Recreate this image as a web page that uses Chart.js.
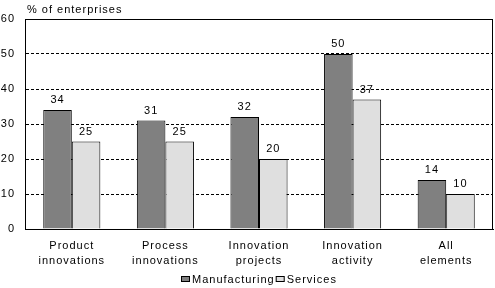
<!DOCTYPE html>
<html><head><meta charset="utf-8">
<script src="https://cdn.jsdelivr.net/npm/chart.js@4"></script>
<style>html,body{margin:0;padding:0;background:#fff}canvas{display:block}</style>
</head><body>
<canvas id="c" width="495" height="288"></canvas>
<script>
const categories = [['Product','innovations'],['Process','innovations'],['Innovation','projects'],['Innovation','activity'],['All','elements']];
const manufacturing = [34, 31, 32, 50, 14];
const services = [25, 25, 20, 37, 10];
const seriesNames = ['Manufacturing', 'Services'];
const yMin = 0, yMax = 60, yStep = 10;
const yTitle = '% of enterprises';

const FONT = "'Liberation Sans', Arial, sans-serif";
const SP = '1px';

const spacingPlugin = {
  id: 'spacing',
  beforeUpdate(c) { c.ctx.letterSpacing = SP; },
  beforeLayout(c) { c.ctx.letterSpacing = SP; },
  beforeDraw(c) { c.ctx.letterSpacing = SP; }
};

const framePlugin = {
  id: 'frame',
  beforeDatasetsDraw(c) {
    const {ctx, chartArea: a} = c;
    ctx.save();
    ctx.strokeStyle = '#000';
    ctx.lineWidth = 1;
    ctx.setLineDash([]);
    ctx.beginPath();
    const t = Math.round(a.top) + 0.5, r = Math.round(a.right) - 0.5;
    ctx.moveTo(a.left, t); ctx.lineTo(r, t); ctx.lineTo(r, a.bottom);
    ctx.stroke();
    ctx.restore();
  }
};

const valuePlugin = {
  id: 'values',
  afterDatasetsDraw(c) {
    const ctx = c.ctx;
    ctx.save();
    ctx.letterSpacing = SP;
    ctx.font = '11px ' + FONT;
    ctx.fillStyle = '#000';
    ctx.textAlign = 'center';
    ctx.textBaseline = 'alphabetic';
    c.data.datasets.forEach((ds, i) => {
      c.getDatasetMeta(i).data.forEach((el, j) => {
        ctx.fillText(String(ds.data[j]), el.x, el.y - 7);
      });
    });
    ctx.restore();
  }
};

const titleLegendPlugin = {
  id: 'titleLegend',
  afterDraw(c) {
    const ctx = c.ctx, a = c.chartArea;
    ctx.save();
    ctx.letterSpacing = SP;
    ctx.font = '11px ' + FONT;
    ctx.fillStyle = '#000';
    ctx.textAlign = 'left';
    ctx.textBaseline = 'alphabetic';
    ctx.fillText(yTitle, a.left + 2, 13);
    const ds = c.data.datasets;
    const bw = 9, bh = 6, gap = 2, itemGap = 1;
    let total = 0;
    const widths = ds.map(d => ctx.measureText(d.label).width);
    widths.forEach((w, i) => { total += bw + gap + w + (i < widths.length - 1 ? itemGap : 0); });
    let x = Math.round((a.left + a.right) / 2 - total / 2);
    const yBox = 276;
    ds.forEach((d, i) => {
      ctx.fillStyle = d.backgroundColor;
      ctx.fillRect(x, yBox, bw, bh);
      ctx.strokeStyle = '#000';
      ctx.lineWidth = 1;
      ctx.strokeRect(x + 0.5, yBox + 0.5, bw - 1, bh - 1);
      ctx.fillStyle = '#000';
      ctx.fillText(d.label, x + bw + gap, 283);
      x += bw + gap + widths[i] + itemGap;
    });
    ctx.restore();
  }
};

new Chart(document.getElementById('c'), {
  type: 'bar',
  data: {
    labels: categories,
    datasets: [
      { label: seriesNames[0], data: manufacturing, backgroundColor: '#808080', borderColor: '#000', borderWidth: 1 },
      { label: seriesNames[1], data: services, backgroundColor: '#DFDFDF', borderColor: '#000', borderWidth: 1 }
    ]
  },
  options: {
    responsive: false,
    animation: false,
    events: [],
    categoryPercentage: 0.61,
    barPercentage: 1.0,
    layout: { padding: { top: 19, right: 2, bottom: 14, left: 0 } },
    plugins: {
      legend: { display: false },
      title: { display: false },
      tooltip: { enabled: false }
    },
    scales: {
      x: {
        grid: { display: false },
        border: { display: true, color: '#000', width: 1 },
        ticks: { color: '#000', font: { family: FONT, size: 11, lineHeight: 1.4 }, padding: 1, maxRotation: 0, autoSkip: false },
        afterFit(s) { s.height = 45; }
      },
      y: {
        min: yMin, max: yMax,
        grid: { color: '#000', lineWidth: 1, drawTicks: false },
        border: { display: true, color: '#000', width: 1, dash: [3, 2] },
        ticks: { stepSize: yStep, color: '#000', font: { family: FONT, size: 11 }, padding: 10 },
        afterFit(s) { s.width = 25; }
      }
    }
  },
  plugins: [spacingPlugin, framePlugin, valuePlugin, titleLegendPlugin]
});
</script>
</body></html>
